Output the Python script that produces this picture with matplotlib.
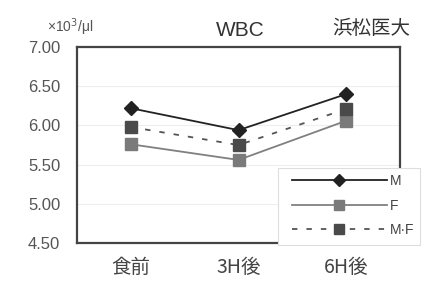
import matplotlib.pyplot as plt
from matplotlib.lines import Line2D
from matplotlib.patches import Rectangle

plt.rcParams['font.family'] = ['Liberation Sans', 'Noto Sans CJK JP']

categories = ["食前", "3H後", "6H後"]
m_vals = [6.22, 5.94, 6.40]
f_vals = [5.76, 5.56, 6.06]
mf_vals = [5.98, 5.75, 6.21]
yticks = [4.50, 5.00, 5.50, 6.00, 6.50, 7.00]

fig = plt.figure(figsize=(4.29, 3.0), dpi=100)
ax = fig.add_axes([0.1795, 0.19, 0.753, 0.653])

x = range(len(categories))
ax.plot(x, m_vals, color='#222222', lw=1.3, marker='D', ms=7, mfc='#222222', mec='#222222', label='M', zorder=4)
ax.plot(x, f_vals, color='#808080', lw=1.3, marker='s', ms=8, mfc='#7a7a7a', mec='#7a7a7a', label='F', zorder=3)
ax.plot(x, mf_vals, color='#555555', lw=1.3, ls=(0, (3, 5)), marker='s', ms=8, mfc='#4a4a4a', mec='#4a4a4a', label='M·F', zorder=3)

ax.set_xlim(-0.5, 2.5)
ax.set_ylim(4.5, 7.0)
ax.set_yticks(yticks)
ax.set_yticklabels(["%.2f" % v for v in yticks], fontsize=12, color='#555555')
ax.set_xticks(list(x))
ax.set_xticklabels(categories, fontsize=14, color='#444444', family=['Noto Sans CJK JP'])
ax.tick_params(length=0, pad=12)
ax.tick_params(axis='x', pad=10)
ax.grid(axis='y', color='#eeeeee', lw=0.8)
for s in ax.spines.values():
    s.set_color('#444444')
    s.set_linewidth(1.6)

fig.text(0.56, 0.9, "WBC", fontsize=15, color='#333333', ha='center', va='center')
fig.text(0.865, 0.905, "浜松医大", fontsize=14, color='#333333', ha='center', va='center',
         family=['Noto Sans CJK JP'])
fig.text(0.163, 0.91, "×10$^3$/μl", fontsize=10, color='#555555', ha='center', va='center')

# legend box drawn by hand so it sits over the right spine like the original
box = Rectangle((278 / 429, 1 - 245 / 300), 142 / 429, 77 / 300, transform=fig.transFigure,
                facecolor='white', edgecolor='#dddddd', lw=0.8, zorder=9)
fig.add_artist(box)

handles = [
    Line2D([], [], color='#222222', lw=1.3, marker='D', ms=6, mfc='#222222', mec='#222222'),
    Line2D([], [], color='#808080', lw=1.3, marker='s', ms=7, mfc='#7a7a7a', mec='#7a7a7a'),
    Line2D([], [], color='#555555', lw=1.3, ls=(0, (3, 5)), marker='s', ms=7, mfc='#4a4a4a', mec='#4a4a4a'),
]
leg = fig.legend(handles, ['M', 'F', 'M·F'], loc='upper left', bbox_to_anchor=(288 / 429, 1 - 170 / 300),
                 handlelength=6.8, handletextpad=0.2, labelspacing=0.75, fontsize=10,
                 frameon=False, borderpad=0.3, borderaxespad=0)
for t in leg.get_texts():
    t.set_color('#444444')
leg.set_zorder(10)

fig.savefig("out.png", dpi=100)
